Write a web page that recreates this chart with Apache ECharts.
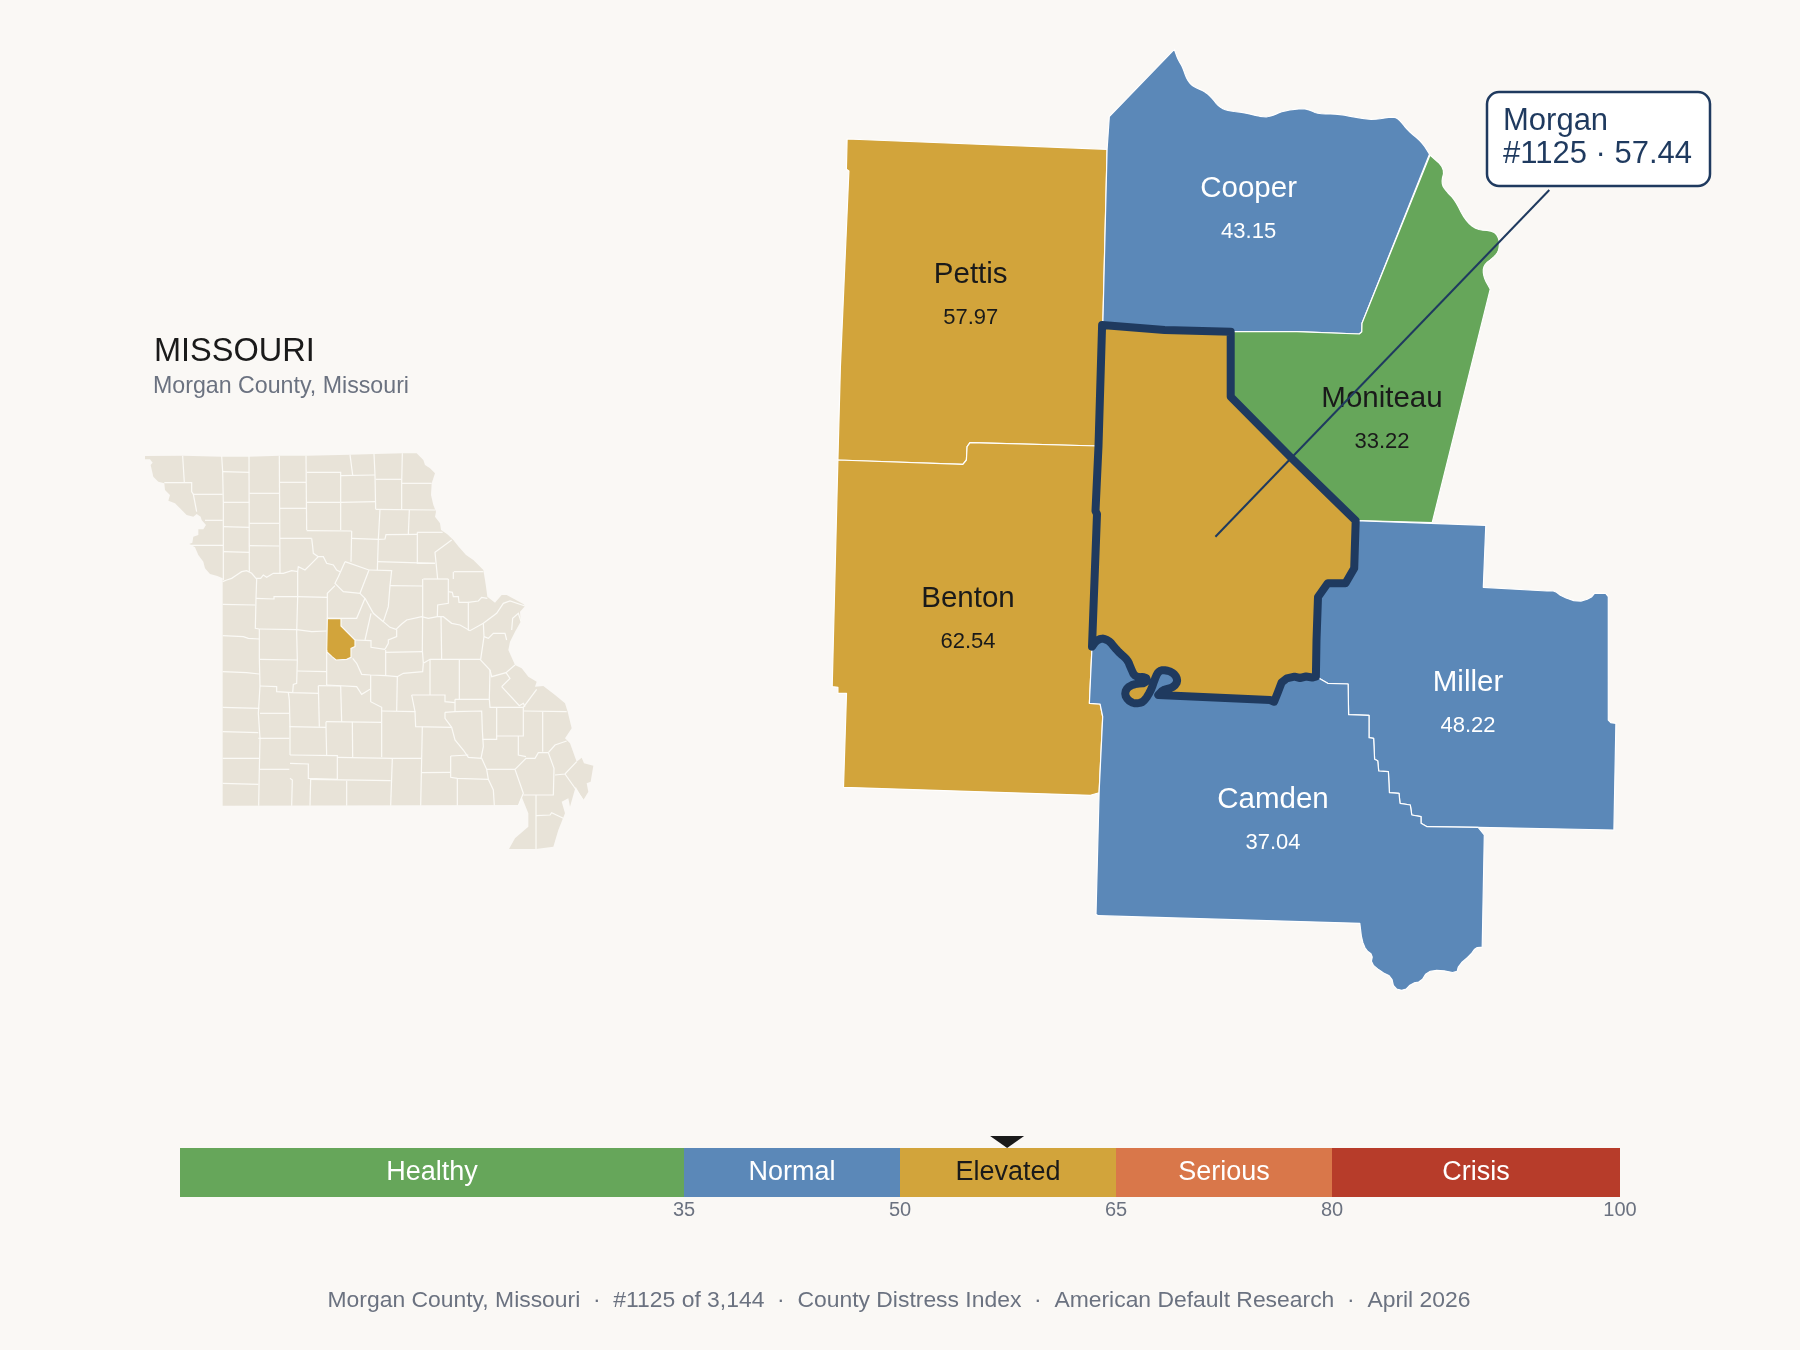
<!DOCTYPE html>
<html><head><meta charset="utf-8">
<style>html,body{margin:0;padding:0;background:#faf8f5}#c{width:1800px;height:1350px}</style>
<script src="https://cdn.jsdelivr.net/npm/echarts@6/dist/echarts.min.js"></script>
</head><body><div id="c"></div>
<script>
// ---- values
const countyNames = ['Pettis','Benton','Cooper','Moniteau','Miller','Camden','Morgan'];
const countyValues = [57.97,62.54,43.15,33.22,48.22,37.04,57.44];
const focusName = 'Morgan', focusValue = 57.44;
const bandNames = ['Healthy','Normal','Elevated','Serious','Crisis'];
const bandWidths = [35,15,15,15,20];
const bandColors = ['#66a65a','#5b88b8','#d2a43b','#d9774a','#b73c2a'];
const bandLabelColors = ['#ffffff','#ffffff','#1a1a1a','#ffffff','#ffffff'];
const tickValues = [35,50,65,80,100];
const INK = '#1f3a5f', BG = '#faf8f5', LAND = '#e8e3d8', MUTED = '#6b7280', DARK = '#1a1a1a';

// ---- helpers for the outline geometry
const rev = a => a.slice().reverse();
const soften = (pts, rounds = 2) => {   // corner-rounding of natural (river) edges, ends kept
  let p = pts;
  for (let r = 0; r < rounds; r++) {
    const q = [p[0]];
    for (let i = 0; i < p.length - 1; i++) {
      const [a,b] = [p[i], p[i+1]];
      q.push([a[0]*.75+b[0]*.25, a[1]*.75+b[1]*.25], [a[0]*.25+b[0]*.75, a[1]*.25+b[1]*.75]);
    }
    q.push(p[p.length-1]);
    p = q;
  }
  return p;
};
const ring = (...parts) => { const r = parts.flat(); r.push(r[0]); return r.map(([x,y]) => [x,-y]); };
const feature = (name, cp, rings) => ({type:'Feature', properties:{name, cp: cp && [cp[0],-cp[1]]}, geometry:{type:'Polygon', coordinates:[rings]}});
const flip = pts => pts.map(([x,y]) => [x,-y]);

// ---- geography of the county cluster (map units, y grows southward)
const edgeMorganWest = [[1102.1,325],[1098.5,446],[1095.5,511],[1097,514],[1092,646.7]];
const edgeMorganRiver = [...soften([[1092,646.7],[1096,641],[1101.7,638.3],[1106,639.5],[1110,641.7],[1115,648],[1120,653.3],[1125,657.5],[1128.3,661.7],[1130,666],[1131.7,670],[1134,675],[1138.3,677.3],[1143,677],[1147.3,678.3],[1145,683.3],[1137,683.6],[1130,685.7],[1126,689.5],[1125,695],[1128,700],[1133.3,703.3],[1138.5,703.3],[1143.3,701.7],[1148,695.5],[1151.7,688.3],[1154.5,680],[1157.3,673.3],[1160,670.8],[1163.3,670],[1169,671],[1173.3,673.3],[1176.5,677],[1177.3,681.7],[1174.5,686],[1170,688.3],[1163,690],[1158.3,695]],1),[1270,700],[1274.1,701.7],[1278,692],[1281.7,682.3],[1286.8,678.3],[1294.5,676.7],[1300,678],[1306,676.5],[1312.3,677.5],[1315.9,676.7]];
const edgeMorganEast = [[1315.9,676.7],[1316.5,640],[1318,597],[1327.7,583.3],[1345.5,583.3],[1354.2,568.3],[1355.7,520.7]];
const edgeMorganDiag = [[1355.7,520.7],[1291.4,458],[1230.7,396.7],[1230.7,331.7],[1164.6,330],[1102.1,325]];
const edgeCamdenMiller = [[1315.9,676.7],[1319,678.3],[1327.7,683.3],[1348.1,684],[1348.6,714.7],[1369,715.3],[1369,737.7],[1373.6,738.3],[1374.6,759.3],[1377.7,760.7],[1378.7,771],[1388.4,771.7],[1389.4,792.7],[1399,793.3],[1400,803.3],[1410.3,805],[1411.8,815],[1421,816.7],[1421,823.3],[1427.1,826.7],[1478.2,827.3]];
const coastCooper = soften([[1174.3,49.3],[1178.2,60],[1182.5,66.7],[1187.1,80],[1193.2,86.7],[1203.9,91],[1211,96.7],[1219.3,107.3],[1228.9,111],[1243.2,112.3],[1262.9,117.3],[1271.8,116],[1282.5,111],[1302,108.3],[1310,110],[1318.2,114],[1337.9,114],[1355.7,117.3],[1373.3,120],[1391.7,116.7],[1398.3,118.3],[1408.3,131],[1421.7,141.7],[1430,155]]);
const coastMoniteau = soften([[1430,155],[1445,168.3],[1441,183.3],[1446.7,191.7],[1455,200],[1465,220],[1476.7,230],[1493.3,230.7],[1499.3,238.3],[1499.3,250],[1494,257.3],[1483.3,265],[1483.3,276.7],[1490.7,290]]);
const coastCamden = soften([[1482.2,947.3],[1475.6,947.7],[1470.5,955],[1458.8,965],[1456.7,973.3],[1439.9,970],[1427.1,971.7],[1421,981.7],[1411.8,983.3],[1404.2,991],[1394,988.3],[1391.4,976.7],[1381,971.7],[1371,963.3],[1372.6,955],[1365.9,950],[1361.8,940],[1359.8,923.3]],1);
const notchMiller = soften([[1547,591],[1554.7,590.7],[1562.3,596.7],[1577.7,602],[1590.4,598.3],[1594.5,593.3]],1);

const detailGeo = {type:'FeatureCollection', features:[
  feature('Pettis',[970.7,296.5], ring([[847.1,139],[1107.1,149.3],[1102.9,321.7],[1102.1,325],[1098.5,446],[970,442.7],[967.1,446.7],[966.4,460],[962.9,464.3],[837.9,460],[840.4,366.7],[848.9,171],[846.4,169.3]])),
  feature('Benton',[968,620.5], ring([[837.9,460],[962.9,464.3],[966.4,460],[967.1,446.7],[970,442.7],[1098.5,446],[1095.5,511],[1097,514],[1092,646.7],[1089.4,703.3],[1100.1,704],[1102.7,716.7],[1099.1,792.7],[1090.4,795.3],[843.5,787.3],[846.5,693.3],[837.9,693.3],[837.9,687.3],[832.2,686.7],[836.8,503.3]])),
  feature('Cooper',[1248.6,210.5], ring(coastCooper, [[1362,323.3],[1361.8,331.7],[1359.3,334],[1297,331.7],[1230.7,331.7],[1164.6,330],[1102.1,325],[1102.9,321.7],[1107.1,149.3],[1109.3,116.7]])),
  feature('Moniteau',[1382,420.5], ring(coastMoniteau, [[1432.2,522.7],[1355.7,520.7],[1291.4,458],[1230.7,396.7],[1230.7,331.7],[1297,331.7],[1359.3,334],[1361.8,331.7],[1362,323.3]])),
  feature('Miller',[1468,704.5], ring([[1355.7,520.7],[1485.8,525.3],[1483.3,587.3]], notchMiller, [[1605.7,593.3],[1608.3,596.7],[1608.3,720],[1610.8,722.7],[1615.9,723.3],[1613.9,830]], rev(edgeCamdenMiller), edgeMorganEast.slice(1,-1))),
  feature('Camden',[1273,821.5], ring(edgeMorganRiver, edgeCamdenMiller.slice(1), [[1484.3,835]], coastCamden, [[1098,915.7],[1096,914.3],[1099.1,792.7],[1102.7,716.7],[1100.1,704],[1089.4,703.3]])),
  feature('Morgan',null, ring(edgeMorganWest, edgeMorganRiver.slice(1), edgeMorganEast.slice(1), edgeMorganDiag.slice(1,-1)))
]};
// callout leader, from inside the focus county up to the label box
const leaderCoords = [[1215.4,536.7],[1549.3,190]];

// ---- geography of the state (map units, y grows southward)
const stateOutline = [[45,48],[160,47],[275,50],[355,50],[450,47],[530,47],[660,44],[735,42],[820,40],[860,40],[880,60],[885,75],[900,85],[915,100],[905,130],[903,165],[910,195],[918,215],[915,230],[930,250],[933,270],[952,283],[970,300],[986,320],[1008,345],[1030,360],[1060,390],[1065,420],[1068,440],[1072,470],[1095,488],[1115,465],[1130,465],[1180,492],[1185,498],[1170,515],[1172,545],[1155,575],[1140,605],[1135,630],[1155,675],[1175,685],[1195,710],[1220,725],[1215,740],[1240,738],[1275,765],[1305,790],[1313,815],[1325,865],[1305,895],[1320,910],[1340,965],[1355,953],[1362,970],[1390,977],[1382,1025],[1370,1030],[1375,1055],[1360,1080],[1337,1040],[1320,1100],[1315,1075],[1295,1085],[1305,1120],[1285,1170],[1270,1220],[1218,1227],[1137,1227],[1155,1195],[1195,1160],[1195,1120],[1175,1070],[1165,1095],[278,1097],[278,425],[278,415],[262,408],[240,402],[225,385],[220,365],[205,345],[195,322],[178,312],[187,308],[190,290],[205,285],[205,268],[220,268],[228,255],[215,240],[212,230],[200,222],[190,230],[170,225],[150,205],[135,190],[115,182],[120,165],[105,150],[103,130],[85,125],[70,110],[62,75],[68,68],[60,58],[45,58]];
const stateMorgan = [[592,535],[633,536],[633,558],[675,600],[675,620],[663,625],[663,652],[650,658],[618,660],[606,650],[590,635]];
const countyLines = [
// north-west
[[158,47],[163,128]],[[103,128],[185,128],[185,155],[190,163],[200,215]],[[190,163],[278,163]],[[275,48],[278,95],[280,187],[280,420]],[[225,241],[278,241]],[[178,316],[280,316]],[[278,95],[358,97]],[[357,47],[358,395]],[[280,187],[358,187]],[[280,260],[358,262]],[[280,335],[358,337]],[[358,160],[447,160]],[[358,250],[447,250]],[[358,317],[448,318]],[[448,47],[450,400]],[[450,127],[528,127]],[[450,205],[528,205]],[[450,295],[545,295]],
[[528,47],[530,270]],[[530,97],[632,97],[632,270]],[[530,187],[632,187]],[[530,272],[665,273]],[[632,107],[735,105]],[[660,44],[668,105]],[[632,187],[737,185]],[[665,273],[663,365]],[[665,295],[745,298]],
// north-east
[[732,42],[735,105],[737,208]],[[737,118],[815,118]],[[817,40],[815,130],[815,208]],[[815,130],[905,130]],[[737,208],[915,210]],[[750,208],[745,298],[742,390]],[[838,210],[835,283]],[[745,298],[765,297],[768,284],[862,283]],[[862,277],[938,277]],[[862,277],[862,370],[915,370]],[[742,365],[915,370]],[[965,300],[915,337],[923,417]],[[880,417],[955,417]],[[972,395],[1060,395]],[[970,395],[970,417]],[[955,417],[955,490],[923,495],[922,530]],[[955,455],[967,457],[970,470],[985,470],[987,487],[1015,487],[1015,572]],[[1015,487],[1045,483],[1055,472],[1072,475]],
// Missouri river and the band south of it
[[278,425],[290,420],[305,415],[320,405],[335,395],[350,392],[365,400],[378,415],[392,415],[400,405],[410,412],[430,400],[460,400],[485,392],[503,395],[505,380],[525,390],[545,370],[565,350],[580,350],[590,370],[610,375],[620,390],[630,395]],[[545,295],[548,320],[550,340],[565,350]],
[[760,545],[780,562],[798,568],[815,552],[830,540],[875,530],[895,535],[922,530],[940,530],[965,550],[990,555],[1020,572],[1060,550],[1100,520],[1120,490],[1140,483],[1185,498]],
[[380,417],[378,475],[376,565],[388,567]],[[503,395],[503,470],[500,578],[502,660]],[[278,493],[375,495]],[[378,475],[432,477],[432,470],[503,470],[592,472]],[[278,587],[340,590],[355,595],[388,597]],[[388,567],[500,569],[545,575],[590,573]],[[388,567],[388,655],[390,738]],
// central
[[645,365],[625,410],[615,430],[640,455],[690,460],[717,390],[645,365]],[[615,437],[592,460],[592,535],[680,535],[705,475],[690,460]],[[718,390],[785,392],[780,437],[775,500],[760,545]],[[705,475],[730,520],[760,545]],[[723,520],[705,600]],[[800,568],[800,590],[775,600],[775,610],[765,628]],[[675,600],[723,602],[723,622],[765,628]],[[780,437],[878,438]],[[878,417],[878,530],[877,630],[880,670]],[[933,530],[935,658]],[[1060,550],[1062,590],[1052,658]],[[1062,590],[1075,595],[1090,580],[1125,580],[1130,600]],[[1145,570],[1148,535],[1165,520],[1173,545]],[[767,630],[767,705]],[[765,637],[878,635]],
[[880,670],[900,658],[1050,658],[1080,690],[1085,710],[1128,698],[1155,675]],[[668,655],[680,670],[695,703],[722,705],[767,707],[802,710],[820,700],[878,695],[880,670]],
// south-west
[[278,695],[350,698],[388,702]],[[390,658],[502,660]],[[502,660],[500,730],[490,733],[488,758]],[[502,693],[590,695]],[[590,630],[590,735]],[[590,735],[680,740],[695,763],[720,748]],[[722,705],[722,785],[755,802],[755,952]],[[802,710],[800,813]],[[755,813],[855,815],[857,860],[965,862]],[[845,765],[855,815]],[[565,737],[568,860]],[[632,738],[635,845]],[[565,737],[632,738]],[[390,738],[440,740],[440,755],[488,758],[565,760]],[[475,758],[478,780],[480,860],[480,945]],[[390,820],[478,820]],[[385,895],[478,895]],[[390,895],[388,988],[386,1097]],[[388,988],[478,988]],[[278,802],[388,805]],[[278,875],[385,878]],[[278,955],[388,955]],[[278,1030],[385,1033]],[[390,738],[385,820],[390,895]],[[478,860],[588,862]],[[588,845],[588,862],[590,945]],[[588,845],[755,847]],[[667,845],[668,952]],[[480,945],[622,947],[622,1018]],[[622,952],[787,955],[875,955]],[[480,970],[535,972],[535,1015],[622,1018]],[[480,1015],[487,1020],[485,1097]],[[542,1018],[540,1097]],[[540,1018],[782,1022]],[[650,1022],[650,1097]],[[787,955],[782,1097]],[[877,860],[875,955],[872,1097]],[[875,998],[962,997]],
// south-east
[[900,658],[900,765]],[[845,765],[945,765],[945,785],[975,788]],[[975,778],[1078,778],[1080,802],[1180,802]],[[988,658],[988,778]],[[1080,690],[1078,778]],[[945,817],[975,815],[1055,813],[1057,870],[1060,920],[1053,955]],[[945,817],[945,835],[965,862],[975,900],[1000,930],[1015,952],[1055,955]],[[975,778],[975,815]],[[962,948],[1015,945]],[[962,948],[962,1012],[982,1015],[1075,1018]],[[982,1015],[982,1097]],[[1055,955],[1070,988],[1075,1018],[1090,1050],[1093,1097]],[[1070,988],[1155,988]],[[1155,988],[1180,1060],[1165,1097]],[[1100,802],[1100,898],[1057,898]],[[1100,888],[1180,888],[1180,802]],[[1165,888],[1165,945],[1188,950]],[[1155,988],[1188,955],[1215,955],[1225,938],[1255,938]],[[1255,938],[1272,985],[1270,1065],[1180,1065]],[[1255,938],[1275,915],[1310,903]],[[1275,1005],[1305,1002],[1340,965]],[[1305,1002],[1360,1080]],[[1238,815],[1238,935]],[[1182,813],[1310,815]],[[1218,1065],[1218,1227]],[[1218,1127],[1260,1125],[1265,1118],[1300,1135]],[[1115,740],[1140,715],[1128,698]],[[1115,740],[1168,797],[1180,790],[1185,800]],[[1220,748],[1180,802]]
];
const stateGeo = {type:'FeatureCollection', features:[
  feature('Missouri',null, ring(stateOutline)),
  feature('MorganMini',null, ring(stateMorgan))
]};

echarts.registerMap('cluster', detailGeo);
echarts.registerMap('state', stateGeo);

const bandIndex = v => { let edge = 0; for (let i = 0; i < bandWidths.length; i++) { edge += bandWidths[i]; if (v < edge) return i; } return bandWidths.length - 1; };

const chart = echarts.init(document.getElementById('c'), null, {renderer:'canvas', width:1800, height:1350});
const FONT = '"Liberation Sans", Arial, sans-serif';
const richLabel = {
  nl:{fontSize:29.5, color:'#ffffff', lineHeight:43, fontFamily:FONT},
  vl:{fontSize:22, color:'#ffffff', lineHeight:43, fontFamily:FONT},
  nd:{fontSize:29.5, color:DARK, lineHeight:43, fontFamily:FONT},
  vd:{fontSize:22, color:DARK, lineHeight:43, fontFamily:FONT}
};

chart.setOption({
  backgroundColor: BG,
  animation:false,
  textStyle:{fontFamily:FONT},
  title:[
    {text:'MISSOURI', left:154, top:336, padding:0, textStyle:{fontSize:32.5, fontWeight:'normal', color:DARK, fontFamily:FONT}},
    {text:'Morgan County, Missouri', left:153, top:375, padding:0, textStyle:{fontSize:23.2, fontWeight:'normal', color:MUTED, fontFamily:FONT}},
    {text:'Morgan County, Missouri  ·  #1125 of 3,144  ·  County Distress Index  ·  American Default Research  ·  April 2026', left:899, top:1289, padding:0, textAlign:'center', textStyle:{fontSize:22.9, fontWeight:'normal', color:MUTED, fontFamily:FONT}}
  ],
  geo:[
    {map:'state', left:130, top:440, width:480, height:420, aspectScale:1, boundingCoords:[[0,0],[1440,-1260]], silent:true, roam:false, z:1,
      itemStyle:{areaColor:LAND, borderColor:LAND, borderWidth:0},
      regions:[{name:'MorganMini', itemStyle:{areaColor:bandColors[bandIndex(focusValue)], borderColor:'#fbfaf6', borderWidth:1.2}}],
      label:{show:false}, emphasis:{disabled:true}, select:{disabled:true}},
    {map:'cluster', left:820, top:30, width:800, height:970, aspectScale:1, boundingCoords:[[820,-30],[1620,-1000]], silent:true, roam:false, z:1,
      itemStyle:{areaColor:'rgba(0,0,0,0)', borderWidth:0}, label:{show:false}, emphasis:{disabled:true}, select:{disabled:true}}
  ],
  grid:{left:180, width:1440, top:1148, height:49, containLabel:false},
  xAxis:{type:'value', min:0, max:100, axisLine:{show:false}, axisTick:{show:false}, splitLine:{show:false},
    axisLabel:{customValues:tickValues, margin:3, fontSize:20, color:MUTED, fontFamily:FONT, hideOverlap:false}},
  yAxis:{type:'category', data:['Index'], show:false},
  series:[
    {type:'map', map:'cluster', left:820, top:30, width:800, height:970, aspectScale:1, boundingCoords:[[820,-30],[1620,-1000]], roam:false, silent:true, z:3,
      itemStyle:{borderColor:'#ffffff', borderWidth:1.2, borderJoin:'round'},
      emphasis:{disabled:true}, select:{disabled:true},
      label:{show:true, position:'inside', formatter:p => {
        const k = bandLabelColors[bandIndex(p.value)] === DARK || p.name === 'Moniteau' ? 'd' : 'l';
        return `{n${k}|${p.name}}\n{v${k}|${p.value.toFixed(2)}}`;
      }, rich:richLabel},
      data:countyNames.map((name,i) => ({
        name, value:countyValues[i],
        itemStyle: name === focusName
          ? {areaColor:bandColors[bandIndex(countyValues[i])], borderColor:INK, borderWidth:8, borderJoin:'round'}
          : {areaColor:bandColors[bandIndex(countyValues[i])]},
        label:{show: name !== focusName}
      }))
    },
    {type:'lines', coordinateSystem:'geo', geoIndex:0, polyline:true, silent:true, z:2,
      lineStyle:{color:'#fbfaf6', width:1.2, opacity:1},
      data:countyLines.map(l => ({coords:flip(l)}))},
    {type:'lines', coordinateSystem:'geo', geoIndex:1, polyline:true, silent:true, z:5,
      lineStyle:{color:INK, width:2, opacity:1},
      data:[{coords:flip(leaderCoords)}]},
    ...bandNames.map((name,i) => ({
      type:'bar', name, stack:'scale', data:[bandWidths[i]], barWidth:49, silent:true,
      itemStyle:{color:bandColors[i]},
      label:{show:true, position:'inside', formatter:name, fontSize:27, color:bandLabelColors[i], fontFamily:FONT}
    })),
    {type:'scatter', data:[[focusValue,'Index']], symbol:'triangle', symbolRotate:180, symbolSize:[34,12], symbolOffset:[0,-30.5], silent:true, z:6, itemStyle:{color:DARK, opacity:1}}
  ],
  graphic:[
    {type:'rect', z:10, shape:{x:1487,y:92,width:223,height:94,r:12}, style:{fill:'#ffffff', stroke:INK, lineWidth:2.5}},
    {type:'text', z:11, x:1503, y:105, style:{text:'Morgan\n#1125 · 57.44', font:'31px "Liberation Sans", Arial, sans-serif', fill:INK, lineHeight:33}}
  ]
});
</script></body></html>
